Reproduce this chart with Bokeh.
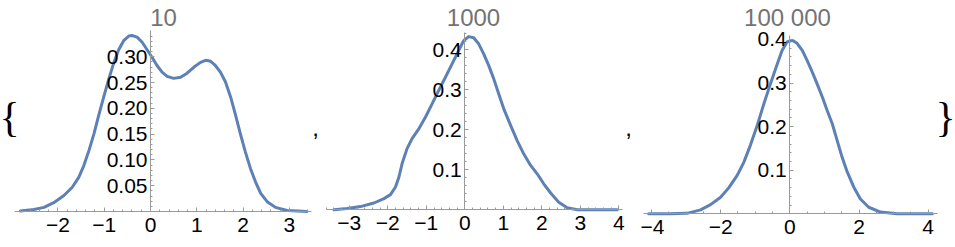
from bokeh.plotting import figure
from bokeh.models import FixedTicker, Label, Range1d
from bokeh.layouts import row
from bokeh.embed import file_html
from bokeh.resources import INLINE

# ---- data ----
titles = ["10", "1000", "100 000"]

x1 = [-2.81, -2.52, -2.30, -2.09, -1.87, -1.69, -1.55, -1.44, -1.33, -1.22, -1.12, -1.01,
      -0.90, -0.79, -0.69, -0.58, -0.47, -0.40, -0.29, -0.18, -0.07, 0.04, 0.14, 0.25,
      0.36, 0.50, 0.65, 0.79, 0.94, 1.08, 1.19, 1.30, 1.40, 1.51, 1.62, 1.73, 1.84, 1.94,
      2.05, 2.16, 2.27, 2.38, 2.52, 2.70, 2.95, 3.38]
y1 = [0.001, 0.004, 0.008, 0.017, 0.031, 0.047, 0.066, 0.089, 0.118, 0.151, 0.186, 0.222,
      0.257, 0.289, 0.313, 0.331, 0.340, 0.341, 0.338, 0.328, 0.313, 0.298, 0.283, 0.270,
      0.262, 0.258, 0.260, 0.268, 0.280, 0.289, 0.293, 0.291, 0.283, 0.270, 0.251, 0.222,
      0.186, 0.151, 0.115, 0.083, 0.057, 0.035, 0.019, 0.008, 0.002, 0.0]

x2 = [-3.40, -3.05, -2.71, -2.36, -2.10, -1.93, -1.80, -1.71, -1.63, -1.50, -1.37, -1.19,
      -1.02, -0.85, -0.68, -0.50, -0.33, -0.16, -0.03, 0.10, 0.23, 0.36, 0.49, 0.62, 0.75,
      0.88, 1.01, 1.19, 1.36, 1.53, 1.71, 1.88, 2.05, 2.23, 2.44, 2.66, 2.92, 3.35, 3.96]
y2 = [0.0, 0.003, 0.008, 0.017, 0.028, 0.038, 0.057, 0.082, 0.115, 0.153, 0.178, 0.203,
      0.232, 0.265, 0.298, 0.332, 0.365, 0.398, 0.423, 0.433, 0.430, 0.415, 0.390, 0.361,
      0.328, 0.290, 0.253, 0.211, 0.173, 0.140, 0.111, 0.090, 0.065, 0.042, 0.019, 0.005,
      0.0, 0.0, 0.0]

x3 = [-4.08, -3.45, -2.97, -2.58, -2.29, -2.0, -1.76, -1.52, -1.33, -1.14, -0.94, -0.75,
      -0.56, -0.36, -0.22, -0.08, 0.07, 0.21, 0.36, 0.50, 0.65, 0.79, 0.94, 1.08, 1.23,
      1.37, 1.51, 1.66, 1.85, 2.04, 2.28, 2.62, 3.10, 4.12]
y3 = [0.0, 0.0, 0.001, 0.009, 0.021, 0.038, 0.060, 0.088, 0.118, 0.157, 0.203, 0.252,
      0.298, 0.344, 0.375, 0.394, 0.398, 0.391, 0.375, 0.352, 0.325, 0.298, 0.268, 0.237,
      0.206, 0.168, 0.130, 0.096, 0.061, 0.034, 0.015, 0.004, 0.0, 0.0]

xticks1 = [-2, -1, 0, 1, 2, 3]
yticks1 = [0.05, 0.10, 0.15, 0.20, 0.25, 0.30]
ylabels1 = ["0.05", "0.10", "0.15", "0.20", "0.25", "0.30"]

xticks2 = [-3, -2, -1, 0, 1, 2, 3, 4]
yticks2 = [0.1, 0.2, 0.3, 0.4]
ylabels2 = ["0.1", "0.2", "0.3", "0.4"]

xticks3 = [-4, -2, 0, 2, 4]
yticks3 = [0.1, 0.2, 0.3, 0.4]
ylabels3 = ["0.1", "0.2", "0.3", "0.4"]

H = 247
LINE = "#5e81b5"
AXIS = "#9a9a9a"
FONT = "Liberation Sans"


def xlab(v):
    return ("\u2212" + str(-v)) if v < 0 else str(v)


def frange(a, b, step):
    out = []
    n = int(round((b - a) / step))
    for i in range(n + 1):
        out.append(round(a + i * step, 4))
    return out


def panel(width, xr, yr, xs, ys, xticks, xminor, yticks, ylabels, yminor, xb, ytop,
          title, tx):
    p = figure(width=width, height=H, x_range=Range1d(*xr), y_range=Range1d(*yr),
               output_backend="svg", toolbar_location=None, min_border=0,
               outline_line_color=None, background_fill_color="white",
               border_fill_color="white")
    p.grid.visible = False
    p.line(xs, ys, line_color=LINE, line_width=3, line_join="round", line_cap="round")

    xa = p.xaxis[0]
    xa.fixed_location = 0
    xa.bounds = xb
    xa.ticker = FixedTicker(ticks=xticks, minor_ticks=xminor)
    xa.major_label_overrides = {t: xlab(t) for t in xticks}
    ya = p.yaxis[0]
    ya.fixed_location = 0
    ya.bounds = (0, ytop)
    ya.ticker = FixedTicker(ticks=yticks, minor_ticks=yminor)
    ya.major_label_overrides = {t: l for t, l in zip(yticks, ylabels)}
    for ax in (xa, ya):
        ax.axis_line_color = AXIS
        ax.axis_line_width = 1
        ax.major_tick_line_color = AXIS
        ax.minor_tick_line_color = AXIS
        ax.major_tick_in = 4
        ax.major_tick_out = 0
        ax.minor_tick_in = 2
        ax.minor_tick_out = 0
        ax.major_label_text_font = FONT
        ax.major_label_text_font_size = "21px"
        ax.major_label_text_color = "black"
    xa.major_label_standoff = 6
    ya.major_label_standoff = 3

    p.add_layout(Label(x=tx, y=H - 17, x_units="screen", y_units="screen", text=title,
                       text_align="center", text_baseline="middle", text_font=FONT,
                       text_font_size="24px", text_color="#737373"))
    return p


# panel 1: global px 0..322, x0 at 150 (46.3 px/unit), y0 at 211 (516 px/unit)
f1 = panel(322, (-150 / 46.3, 172 / 46.3), ((211 - H) / 516, 211 / 516), x1, y1,
           xticks1, frange(-2.8, 3.4, 0.2), yticks1, ylabels1, frange(0.01, 0.34, 0.01),
           (-2.94, 3.48), 0.351, titles[0], 163)
# panel 2: global px 322..640, x0 at 464.3 (38.5 px/unit), y0 at 209.3 (400 px/unit)
f2 = panel(318, ((322 - 464.3) / 38.5, (640 - 464.3) / 38.5), ((209.3 - H) / 400, 209.3 / 400),
           x2, y2, xticks2, frange(-3.6, 4.0, 0.2), yticks2, ylabels2, frange(0.02, 0.44, 0.02),
           (-3.6, 4.1), 0.443, titles[1], 151)
# panel 3: global px 640..955, x0 at 789.3 (34.6 px/unit), y0 at 213.3 (436 px/unit)
f3 = panel(315, ((640 - 789.3) / 34.6, (955 - 789.3) / 34.6), ((213.3 - H) / 436, 213.3 / 436),
           x3, y3, xticks3, frange(-4.0, 4.0, 0.5), yticks3, ylabels3, frange(0.02, 0.40, 0.02),
           (-4.23, 4.27), 0.409, titles[2], 147)

# list braces and commas
for fig, sx, txt in ((f1, 9, "{"), (f3, 305, "}")):
    fig.add_layout(Label(x=sx, y=H - 116, x_units="screen", y_units="screen", text=txt,
                         text_align="center", text_baseline="middle",
                         text_font="Liberation Serif", text_font_size="42px",
                         text_color="black"))
for fig, sx in ((f1, 315), (f2, 306)):
    fig.add_layout(Label(x=sx, y=H - 127, x_units="screen", y_units="screen", text=",",
                         text_align="center", text_baseline="alphabetic", text_font=FONT,
                         text_font_size="24px", text_color="black"))

layout = row(f1, f2, f3, spacing=0)
open("out.html", "w").write(file_html(layout, INLINE))
